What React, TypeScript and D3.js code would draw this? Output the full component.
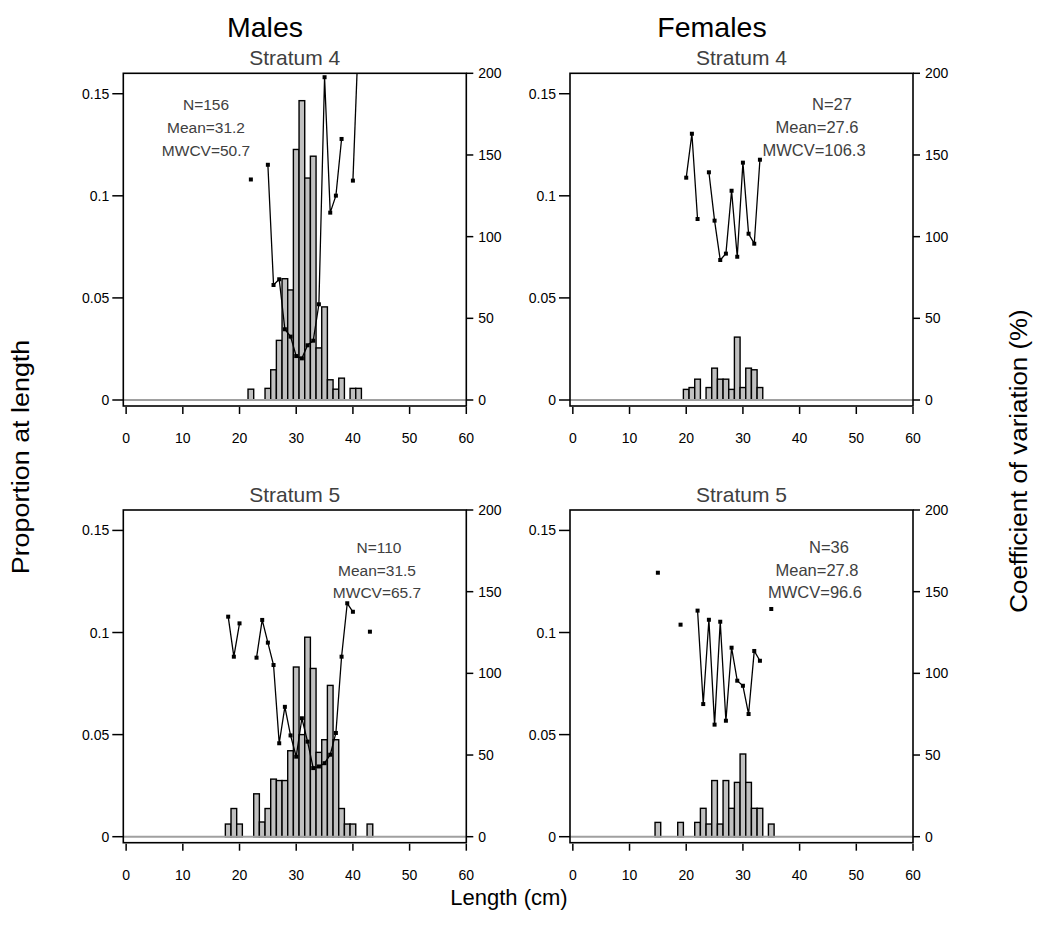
import React from "react";
import * as d3 from "d3";

// ---------- data ----------
const xTicks = [0, 10, 20, 30, 40, 50, 60];
const propTicks = [0, 0.05, 0.1, 0.15];
const propTickLabels = ["0", "0.05", "0.1", "0.15"];
const cvTicks = [0, 50, 100, 150, 200];
const sexTitles = ["Males", "Females"];
const stratumTitles = ["Stratum 4", "Stratum 5"];

// Males, Stratum 4
const m4Len = [22, 25, 26, 27, 28, 29, 30, 31, 32, 33, 34, 35, 36, 37, 38, 40, 41];
const m4Prop = [0.0053, 0.0057, 0.0148, 0.0292, 0.0594, 0.0539, 0.1227, 0.1466, 0.1087, 0.1194, 0.0255, 0.0456, 0.0099, 0.0053, 0.0107, 0.0057, 0.0057];
const m4Cv = [135, 144, 70.4, 73.9, 43.3, 38.8, 26.9, 25.5, 33.5, 36.3, 58.6, 197.6, 114.7, 125.1, 159.8, 134.3, 225];
const m4Text = ["N=156", "Mean=31.2", "MWCV=50.7"];

// Females, Stratum 4
const f4Len = [20, 21, 22, 24, 25, 26, 27, 28, 29, 30, 31, 32, 33];
const f4Prop = [0.0052, 0.0061, 0.0102, 0.0061, 0.0156, 0.0102, 0.0102, 0.0052, 0.0308, 0.0061, 0.0156, 0.0148, 0.0061];
const f4Cv = [136.1, 163, 110.8, 139.4, 109.8, 85.7, 89.6, 128.1, 87.7, 145.3, 101.8, 95.7, 147.1];
const f4Text = ["N=27", "Mean=27.6", "MWCV=106.3"];

// Males, Stratum 5
const m5Len = [18, 19, 20, 23, 24, 25, 26, 27, 28, 29, 30, 31, 32, 33, 34, 35, 36, 37, 38, 39, 40, 43];
const m5Prop = [0.0062, 0.0138, 0.0062, 0.021, 0.0072, 0.0138, 0.0282, 0.0275, 0.0275, 0.0421, 0.0831, 0.05, 0.0977, 0.0824, 0.0413, 0.0475, 0.0741, 0.0475, 0.0138, 0.0062, 0.0062, 0.0062];
const m5Cv = [134.7, 110.2, 130.6, 109.6, 132.7, 118.8, 105.1, 57.2, 79.5, 62, 49, 72.5, 58.2, 42, 43, 45, 50.2, 63.5, 110.2, 142.9, 137.7, 125.5];
const m5Text = ["N=110", "Mean=31.5", "MWCV=65.7"];

// Females, Stratum 5
const f5Len = [15, 19, 22, 23, 24, 25, 26, 27, 28, 29, 30, 31, 32, 33, 35];
const f5Prop = [0.007, 0.007, 0.007, 0.0139, 0.0062, 0.0275, 0.0062, 0.0275, 0.0139, 0.0266, 0.0405, 0.0266, 0.0139, 0.0139, 0.0062];
const f5Cv = [161.6, 129.8, 138.4, 81.2, 132.8, 68.6, 131.6, 71, 115.7, 95.5, 92.4, 75.1, 113.7, 107.7, 139.4];
const f5Text = ["N=36", "Mean=27.8", "MWCV=96.6"];

// ---------- layout ----------
const FONT = "'Liberation Sans', Arial, Helvetica, sans-serif";
const colLeft = [123.3, 570];
const rowTop = [73.3, 510];
const PW = 343;
const PH = 326.7; // top to zero line
const BOT_PAD = 6;
const annotX = [
  [206, 206, 206],
  [832, 817, 814],
  [379, 377, 377],
  [829, 817, 815],
];
const annotY = [
  [110, 133, 156],
  [110, 133, 156],
  [553, 576, 598],
  [553, 576, 598],
];
const annotSize = [15.5, 16.5, 15.5, 16.5];

const panels = [
  { col: 0, row: 0, len: m4Len, prop: m4Prop, cv: m4Cv, text: m4Text },
  { col: 1, row: 0, len: f4Len, prop: f4Prop, cv: f4Cv, text: f4Text },
  { col: 0, row: 1, len: m5Len, prop: m5Prop, cv: m5Cv, text: m5Text },
  { col: 1, row: 1, len: f5Len, prop: f5Prop, cv: f5Cv, text: f5Text },
];

function segments(len: number[], cv: number[]) {
  const segs: { l: number; v: number }[][] = [];
  let cur: { l: number; v: number }[] = [];
  len.forEach((l, i) => {
    if (cur.length && l - cur[cur.length - 1].l > 1) {
      segs.push(cur);
      cur = [];
    }
    cur.push({ l, v: cv[i] });
  });
  if (cur.length) segs.push(cur);
  return segs;
}

function Panel({ p, idx }: { p: any; idx: number }) {
  const left = colLeft[p.col];
  const top = rowTop[p.row];
  const right = left + PW;
  const zero = top + PH;
  const bottom = zero + BOT_PAD;
  const x = d3.scaleLinear().domain([-0.5, 60]).range([left, right]);
  const yL = d3.scaleLinear().domain([0, 0.16]).range([zero, top]);
  const yR = d3.scaleLinear().domain([0, 200]).range([zero, top]);
  const line = d3
    .line<{ l: number; v: number }>()
    .x((d) => x(d.l))
    .y((d) => yR(d.v));
  const segs = segments(p.len, p.cv);
  const clipId = `clip${idx}`;
  return (
    <g>
      <defs>
        <clipPath id={clipId}>
          <rect x={left} y={top} width={PW} height={bottom - top} />
        </clipPath>
      </defs>
      {/* bars */}
      {p.len.map((l: number, i: number) => (
        <rect
          key={i}
          x={x(l - 0.5)}
          y={yL(p.prop[i])}
          width={x(l + 0.5) - x(l - 0.5)}
          height={zero - yL(p.prop[i])}
          fill="#c0c0c0"
          stroke="#000"
          strokeWidth={1.4}
        />
      ))}
      {/* zero line */}
      <line x1={left} x2={right} y1={zero} y2={zero} stroke="#a0a0a0" strokeWidth={2} />
      {/* CV line */}
      <g clipPath={`url(#${clipId})`}>
        {segs.map((s, i) =>
          s.length > 1 ? (
            <path key={i} d={line(s) || ""} fill="none" stroke="#000" strokeWidth={1.3} />
          ) : null
        )}
        {p.len.map((l: number, i: number) => (
          <rect key={i} x={x(l) - 2} y={yR(p.cv[i]) - 2} width={4} height={4} fill="#000" />
        ))}
      </g>
      {/* box */}
      <rect x={left} y={top} width={PW} height={bottom - top} fill="none" stroke="#000" strokeWidth={1.6} />
      {/* left axis */}
      {propTicks.map((t, i) => (
        <g key={i}>
          <line x1={left - 11} x2={left} y1={yL(t)} y2={yL(t)} stroke="#000" strokeWidth={1.5} />
          <text x={left - 14} y={yL(t)} dy="0.36em" textAnchor="end" fontSize={14} fontFamily={FONT} fill="#000">
            {propTickLabels[i]}
          </text>
        </g>
      ))}
      {/* right axis */}
      {cvTicks.map((t, i) => (
        <g key={i}>
          <line x1={right} x2={right + 7} y1={yR(t)} y2={yR(t)} stroke="#000" strokeWidth={1.5} />
          <text x={right + 12} y={yR(t)} dy="0.36em" textAnchor="start" fontSize={14} fontFamily={FONT} fill="#000">
            {t}
          </text>
        </g>
      ))}
      {/* bottom axis */}
      {xTicks.map((t, i) => (
        <g key={i}>
          <line x1={x(t)} x2={x(t)} y1={bottom + 1} y2={bottom + 8} stroke="#000" strokeWidth={1.5} />
          <text x={x(t)} y={bottom + 37} textAnchor="middle" fontSize={14} fontFamily={FONT} fill="#000">
            {t}
          </text>
        </g>
      ))}
      {/* stratum title */}
      <text x={(left + right) / 2} y={top - 8} textAnchor="middle" fontSize={21} fontFamily={FONT} fill="#404040">
        {stratumTitles[p.row]}
      </text>
      {/* annotation */}
      {p.text.map((s: string, i: number) => (
        <text
          key={i}
          x={annotX[idx][i]}
          y={annotY[idx][i]}
          textAnchor="middle"
          fontSize={annotSize[idx]}
          fontFamily={FONT}
          fill="#404040"
        >
          {s}
        </text>
      ))}
    </g>
  );
}

export default function App() {
  return (
    <svg
      width={1038}
      height={931}
      style={{ position: "absolute", left: 0, top: 0, background: "#fff" }}
    >
      <rect x={0} y={0} width={1038} height={931} fill="#fff" />
      {sexTitles.map((s, i) => (
        <text key={i} x={[265, 712][i]} y={37} textAnchor="middle" fontSize={28.5} fontFamily={FONT} fill="#000">
          {s}
        </text>
      ))}
      {panels.map((p, i) => (
        <Panel key={i} p={p} idx={i} />
      ))}
      <text x={509} y={905} textAnchor="middle" fontSize={22} fontFamily={FONT} fill="#000">
        Length (cm)
      </text>
      <text
        transform="translate(29,457) rotate(-90) scale(1.12,1)"
        textAnchor="middle"
        fontSize={24}
        fontFamily={FONT}
        fill="#000"
      >
        Proportion at length
      </text>
      <text
        transform="translate(1027,461) rotate(-90) scale(1.08,1)"
        textAnchor="middle"
        fontSize={24}
        fontFamily={FONT}
        fill="#000"
      >
        Coefficient of variation (%)
      </text>
    </svg>
  );
}
